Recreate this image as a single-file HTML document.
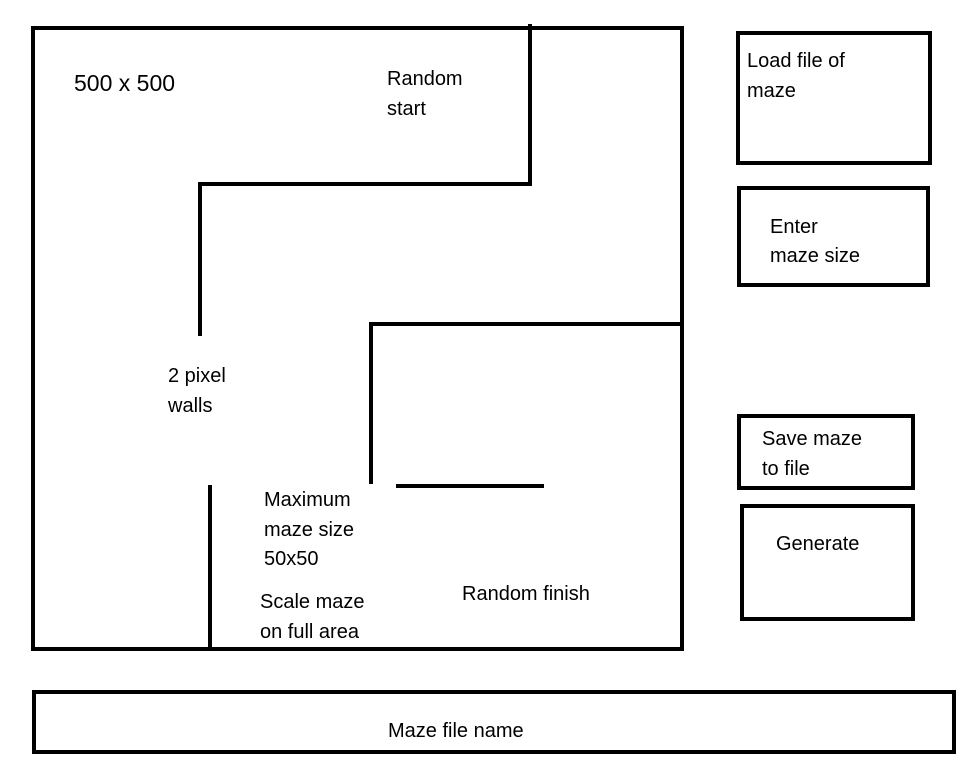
<!DOCTYPE html>
<html><head><style>
body{margin:0;background:#fff;}
svg text{font-family:"Liberation Sans","DejaVu Sans",sans-serif;font-size:20px;fill:#000;}
</style></head><body>
<svg width="975" height="774" viewBox="0 0 975 774" xmlns="http://www.w3.org/2000/svg">
<g fill="none" stroke="#000" stroke-width="4" stroke-linecap="square">
<rect x="33" y="28" width="649" height="621"/>
<line x1="530" y1="26" x2="530" y2="184"/>
<line x1="200" y1="184" x2="530" y2="184"/>
<line x1="200" y1="184" x2="200" y2="334"/>
<line x1="371" y1="324" x2="682" y2="324"/>
<line x1="371" y1="324" x2="371" y2="482"/>
<line x1="398" y1="486" x2="542" y2="486"/>
<line x1="210" y1="487" x2="210" y2="649"/>
<rect x="738" y="33" width="192" height="130"/>
<rect x="739" y="188" width="189" height="97"/>
<rect x="739" y="416" width="174" height="72"/>
<rect x="742" y="506" width="171" height="113"/>
<rect x="34" y="692" width="920" height="60"/>
</g>
<text x="74" y="91" style="font-size:23px">500 x 500</text>
<text x="387" y="85">Random</text>
<text x="387" y="115">start</text>
<text x="168" y="382">2 pixel</text>
<text x="168" y="412">walls</text>
<text x="264" y="506">Maximum</text>
<text x="264" y="536">maze size</text>
<text x="264" y="565">50x50</text>
<text x="260" y="608">Scale maze</text>
<text x="260" y="638">on full area</text>
<text x="462" y="600">Random finish</text>
<text x="747" y="67">Load file of</text>
<text x="747" y="97">maze</text>
<text x="770" y="233">Enter</text>
<text x="770" y="262">maze size</text>
<text x="762" y="445">Save maze</text>
<text x="762" y="475">to file</text>
<text x="776" y="550">Generate</text>
<text x="388" y="737">Maze file name</text>
</svg>
</body></html>
